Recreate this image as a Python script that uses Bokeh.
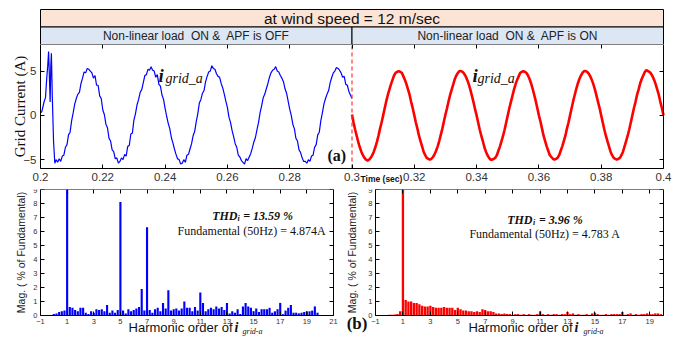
import math
import numpy as np
from bokeh.plotting import figure
from bokeh.models import Range1d, LinearAxis, FixedTicker, Label, CustomLabelingPolicy
from bokeh.layouts import column, row
from bokeh.core.properties import value
from bokeh.embed import file_html
from bokeh.resources import INLINE

SANS = "Liberation Sans"
SERIF = "Liberation Serif"

# ---------------- data ----------------
banner_title = "at wind speed = 12 m/sec"
banner_left = "Non-linear load\u00a0 ON &\u00a0 APF is OFF"
banner_right = "Non-linear load\u00a0 ON &\u00a0 APF is ON"

# grid current, APF OFF (start-up transient, irregular samples)
blue_spike_t = [0.2000, 0.2004, 0.2008, 0.2012, 0.2016, 0.2020, 0.2023, 0.2026,
                0.2028, 0.2031, 0.2033, 0.2035, 0.2038, 0.2042, 0.2046, 0.2050]
blue_spike_i = [0.3, 0.4, 1.0, 1.6, 2.0, 4.2, 5.5, 7.2,
                5.0, 1.5, 5.5, 7.0, 2.0, -3.0, -5.4, -5.0]
# grid current, APF OFF, sampled every 0.5 ms from 0.2055 s to 0.3 s
blue_main_i = [
    -5.3, -4.9, -5.2, -4.6, -4.5, -3.6, -3.3, -2.2, -1.9, -0.6, 0.3, 1.3, 1.9, 2.4, 2.6, 3.6, 4.2, 4.9, 4.8, 5.3,
    5.2, 5.0, 4.8, 4.2, 4.5, 3.4, 3.4, 2.2, 1.9, 0.6, 0.1, -1.0, -1.4, -2.6, -2.9, -3.9, -4.1, -4.9, -4.8, -5.4,
    -5.2, -4.8, -5.0, -4.4, -4.6, -3.5, -3.4, -2.1, -2.0, -0.5, 0.2, 1.2, 1.8, 2.6, 2.9, 3.7, 4.5, 4.6, 5.2, 5.1,
    5.5, 5.1, 5.0, 4.3, 4.6, 3.5, 3.3, 2.3, 1.8, 0.8, -0.1, -0.9, -1.5, -2.5, -3.1, -3.8, -4.4, -4.9, -5.0, -5.5,
    -5.4, -5.0, -5.3, -4.5, -4.4, -3.8, -3.2, -2.3, -1.8, -0.7, 0.2, 1.4, 1.8, 2.5, 2.8, 3.8, 4.4, 4.9, 5.0, 5.6,
    5.3, 5.2, 4.7, 4.4, 4.3, 3.6, 3.1, 2.4, 1.6, 0.9, -0.2, -0.8, -1.7, -2.4, -3.2, -3.6, -4.5, -4.7, -5.1, -5.3,
    -5.5, -4.9, -5.1, -4.7, -4.3, -3.7, -3.0, -2.5, -1.6, -0.8, 0.3, 1.1, 2.0, 2.4, 3.0, 3.6, 4.3, 4.8, 5.1, 5.2,
    5.5, 5.0, 4.9, 4.5, 4.2, 3.8, 3.0, 2.5, 1.6, 0.7, 0.0, -1.0, -1.5, -2.6, -2.9, -3.9, -4.2, -4.8, -5.2, -5.2,
    -5.4, -5.0, -5.2, -4.6, -4.5, -3.6, -3.3, -2.2, -1.9, -0.6, 0.3, 1.3, 1.9, 2.4, 2.8, 3.7, 4.3, 4.8, 5.0, 5.4,
    5.3, 5.1, 4.8, 4.3, 4.4, 3.5, 3.4, 2.7, 2.3, 1.9,
]
# grid current, APF ON, sampled every 0.5 ms from 0.3 s to 0.4 s
red_i = [
    0.1, -0.8, -1.6, -2.3, -3.0, -3.6, -4.1, -4.5, -4.8, -5.0, -5.1, -5.0, -4.8, -4.5, -4.1, -3.6, -3.0, -2.3, -1.5, -0.8,
    0.0, 0.8, 1.6, 2.3, 2.9, 3.5, 4.0, 4.5, 4.8, 4.9, 5.0, 4.9, 4.8, 4.4, 4.0, 3.5, 2.9, 2.3, 1.5, 0.8,
    0.0, -0.8, -1.5, -2.3, -2.9, -3.5, -4.1, -4.5, -4.8, -4.9, -5.0, -4.9, -4.7, -4.4, -4.0, -3.5, -2.9, -2.2, -1.5, -0.7,
    0.1, 0.8, 1.6, 2.3, 2.9, 3.5, 4.1, 4.5, 4.8, 5.0, 5.0, 4.9, 4.7, 4.4, 4.0, 3.5, 2.9, 2.2, 1.5, 0.7,
    0.0, -0.8, -1.6, -2.3, -2.9, -3.6, -4.1, -4.5, -4.8, -5.0, -5.0, -4.9, -4.8, -4.5, -4.0, -3.5, -2.9, -2.3, -1.6, -0.8,
    0.0, 0.8, 1.5, 2.2, 2.9, 3.5, 4.0, 4.4, 4.8, 4.9, 5.0, 4.9, 4.8, 4.5, 4.1, 3.6, 3.0, 2.3, 1.6, 0.8,
    0.0, -0.7, -1.5, -2.3, -2.9, -3.5, -4.0, -4.5, -4.7, -4.9, -5.0, -4.9, -4.8, -4.5, -4.0, -3.5, -2.9, -2.3, -1.5, -0.8,
    0.0, 0.8, 1.6, 2.3, 3.0, 3.6, 4.1, 4.5, 4.8, 5.0, 5.0, 4.9, 4.7, 4.4, 4.0, 3.5, 2.9, 2.2, 1.5, 0.8,
    0.0, -0.8, -1.6, -2.3, -2.9, -3.5, -4.1, -4.5, -4.8, -4.9, -5.0, -4.9, -4.8, -4.5, -4.1, -3.5, -2.9, -2.3, -1.6, -0.8,
    0.0, 0.8, 1.5, 2.3, 2.9, 3.6, 4.1, 4.5, 4.9, 5.1, 5.0, 4.9, 4.7, 4.4, 4.0, 3.5, 2.9, 2.3, 1.5, 0.8,
    0.0,
]
time_ticks = [0.2, 0.22, 0.24, 0.26, 0.28, 0.3, 0.32, 0.34, 0.36, 0.38, 0.4]
time_tick_labels = ["0.2", "0.22", "0.24", "0.26", "0.28", "0.3", "0.32", "0.34", "0.36", "0.38", "0.4"]
current_ticks = [-5, 0, 5]
apf_switch_time = 0.3

# harmonic spectra (% of fundamental), orders 0.0 .. 19.8 in steps of 0.2
harm_order = [round(0.2 * k, 1) for k in range(100)]
mag_off = [
    0.1, 0.15, 0.25, 0.3, 0.35, 100, 0.6, 0.55, 0.4, 0.3,
    0.55, 0.55, 0.2, 0.1, 0.3, 0.2, 0.45, 0.4, 0.45, 0.3,
    0.75, 0.2, 0.35, 0.2, 0.4, 8.1, 0.35, 0.15, 0.45, 0.3,
    0.4, 0.5, 0.6, 1.9, 0.35, 6.3, 0.4, 0.2, 0.45, 0.55,
    0.3, 0.9, 0.5, 1.8, 0.35, 0.45, 0.5, 0.35, 0.5, 1.0,
    0.55, 0.55, 0.3, 0.6, 0.35, 1.65, 0.9, 0.3, 0.45, 0.55,
    0.45, 0.65, 0.5, 0.6, 0.4, 0.9, 0.15, 0.3, 0.2, 0.45,
    0.1, 0.65, 0.9, 0.65, 0.55, 0.3, 0.5, 0.25, 0.45, 0.45,
    0.45, 0.55, 0.2, 0.3, 0.45, 0.9, 0.1, 0.35, 0.55, 0.75,
    0.2, 0.2, 0.15, 0.2, 0.25, 0.3, 0.3, 0.35, 0.65, 0.2,
]
mag_on = [
    0.05, 0.05, 0.08, 0.1, 0.3, 100, 1.1, 1.0, 1.0, 0.9,
    0.9, 0.8, 0.7, 0.65, 0.65, 0.7, 0.6, 0.55, 0.55, 0.55,
    0.6, 0.55, 0.55, 0.55, 0.4, 0.55, 0.45, 0.35, 0.35, 0.3,
    0.3, 0.25, 0.3, 0.25, 0.45, 0.4, 0.3, 0.3, 0.25, 0.15,
    0.15, 0.1, 0.15, 0.1, 0.1, 0.05, 0.1, 0.1, 0.05, 0.1,
    0.05, 0.1, 0.05, 0.05, 0.1, 0.3, 0.1, 0.05, 0.1, 0.05,
    0.1, 0.1, 0.05, 0.1, 0.1, 0.25, 0.1, 0.15, 0.05, 0.1,
    0.05, 0.05, 0.1, 0.05, 0.15, 0.2, 0.1, 0.05, 0.05, 0.1,
    0.05, 0.1, 0.1, 0.1, 0.1, 0.25, 0.05, 0.1, 0.15, 0.05,
    0.1, 0.05, 0.1, 0.1, 0.15, 0.1, 0.1, 0.15, 0.15, 0.1,
]
harm_ticks_off = [-1, 1, 3, 5, 7, 9, 11, 13, 15, 17, 19, 21]
harm_ticks_on = [-1, 1, 3, 5, 7, 9, 11, 13, 15, 17, 19]
mag_ticks = [0, 1, 2, 3, 4, 5, 6, 7, 8, 9]

# sample grids
blue_main_t = list(np.round(0.2055 + 0.0005 * np.arange(len(blue_main_i)), 5))
red_t = list(np.round(0.3 + 0.0005 * np.arange(len(red_i)), 5))
blue_t = blue_spike_t + blue_main_t
blue_i = blue_spike_i + blue_main_i

BLUE = "#0000ff"
RED = "#ff0000"
PEACH = "#fbe4d5"
LIGHTBLUE = "#dde7f4"

NO_LABELS = CustomLabelingPolicy(code="""
try { for (const i of Array.from(indices)) { indices.unset(i) } } catch (e) {}
return indices
""")

ZERO_BORDERS = dict(min_border=0, min_border_left=0, min_border_right=0,
                    min_border_top=0, min_border_bottom=0)


def padded(lo, hi, px_len, pad_lo, pad_hi):
    """Range whose [lo, hi] part spans px_len pixels, padded by pad_lo/pad_hi pixels."""
    k = (hi - lo) / px_len
    return Range1d(lo - pad_lo * k, hi + pad_hi * k)


def box_axes(p, xr, yr, xticks, yticks, label_size, label_color="#333333",
             overrides=None, xstandoff=3, ystandoff=3):
    """Axes drawn as a closed box around the data area [xr] x [yr] with inward ticks."""
    p.xgrid.visible = False
    p.ygrid.visible = False
    p.outline_line_color = None
    top_ax = LinearAxis()
    right_ax = LinearAxis()
    p.add_layout(top_ax, "above")
    p.add_layout(right_ax, "right")
    p.below[0].fixed_location = yr[0]
    top_ax.fixed_location = yr[1]
    p.left[0].fixed_location = xr[0]
    right_ax.fixed_location = xr[1]
    for ax in p.xaxis:
        ax.ticker = FixedTicker(ticks=xticks)
        ax.bounds = xr
        if overrides:
            ax.major_label_overrides = overrides
        ax.major_label_standoff = xstandoff
    for ax in p.yaxis:
        ax.ticker = FixedTicker(ticks=yticks)
        ax.bounds = yr
        ax.major_label_standoff = ystandoff
    for ax in p.axis:
        ax.major_tick_in = 4
        ax.major_tick_out = 0
        ax.minor_tick_line_color = None
        ax.axis_line_color = "black"
        ax.major_tick_line_color = "black"
        ax.major_label_text_font = SANS
        ax.major_label_text_font_size = label_size
        ax.major_label_text_color = label_color
    for ax in (top_ax, right_ax):
        ax.major_label_text_font_size = "0px"
        ax.major_label_standoff = 0
        ax.major_label_policy = NO_LABELS


def lab(p, x, y, text, size, font=SANS, style="normal", color="#111111", baseline="middle",
        align="left", angle=0.0):
    p.add_layout(Label(x=x, y=y, text=text, text_font=font, text_font_size=size,
                       text_font_style=style, text_color=color, angle=angle,
                       text_baseline=baseline, text_align=align))


# ---------------- banner ----------------
banner = figure(width=681, height=44,
                x_range=padded(0, 1, 623, 40, 18), y_range=padded(0, 2, 35, 0, 9),
                x_axis_type=None, y_axis_type=None, toolbar_location=None, output_backend="svg",
                **ZERO_BORDERS)
banner.outline_line_color = None
banner.quad(left=[0, 0, 0.5], right=[1, 0.5, 1], bottom=[1, 0, 0], top=[2, 1, 1],
            fill_color=[PEACH, LIGHTBLUE, LIGHTBLUE], line_color="black", line_width=1)
banner.text(x=[0.5], y=[1.5], text=[banner_title], text_font=value(SANS), text_font_size="15.5px",
            text_align="center", text_baseline="middle", text_color="#111111")
banner.text(x=[0.25, 0.75], y=[0.5, 0.5], text=[banner_left, banner_right], text_font=value(SANS),
            text_font_size="12px", text_align="center", text_baseline="middle", text_color="#222222")

# ---------------- time plot ----------------
T_X = (0.2, 0.4)
T_Y = (-6, 8)
tp = figure(width=681, height=143,
            x_range=padded(T_X[0], T_X[1], 623, 40, 18),
            y_range=padded(T_Y[0], T_Y[1], 124, 19, 0),
            toolbar_location=None, output_backend="svg", **ZERO_BORDERS)
box_axes(tp, T_X, T_Y, time_ticks, current_ticks, "11.5px",
         overrides=dict(zip(time_ticks, time_tick_labels)), xstandoff=4, ystandoff=4)
tp.line(blue_t, blue_i, line_color=BLUE, line_width=1.2)
tp.line(red_t, red_i, line_color=RED, line_width=2.6)
tp.segment(x0=[apf_switch_time], y0=[T_Y[0]], x1=[apf_switch_time], y1=[T_Y[1]],
           line_color="#ff3333", line_dash="4 3", line_width=1.2)
lab(tp, 0.19326, 1.0, "Grid Current (A)", "15px", SERIF, "normal", align="center", angle=math.pi / 2)
lab(tp, 0.23788, 4.5, "i", "19px", SERIF, "bold italic", baseline="alphabetic")
lab(tp, 0.24013, 4.15, "grid_a", "14px", SERIF, "italic", baseline="alphabetic")
lab(tp, 0.33868, 4.5, "i", "19px", SERIF, "bold italic", baseline="alphabetic")
lab(tp, 0.34029, 4.15, "grid_a", "14px", SERIF, "italic", baseline="alphabetic")
lab(tp, 0.29213, -4.55, "(a)", "16px", SERIF, "bold")
lab(tp, 0.30273, -7.24, "Time (sec)", "8.5px", SANS, "bold")

# ---------------- spectrum, APF OFF ----------------
L_X = (-1, 21)
S_Y = (0, 9)
bl = figure(width=345, height=151,
            x_range=padded(L_X[0], L_X[1], 293, 40, 12),
            y_range=padded(S_Y[0], S_Y[1], 126, 23, 0),
            toolbar_location=None, output_backend="svg",
            min_border=0, min_border_left=0, min_border_right=0, min_border_top=2, min_border_bottom=0)
box_axes(bl, L_X, S_Y, harm_ticks_off, mag_ticks, "7.5px", xstandoff=3, ystandoff=3)
bl.vbar(x=harm_order, top=mag_off, width=0.16, bottom=0, fill_color=BLUE, line_color=None)
lab(bl, -2.50, 4.5, "Mag. ( % of Fundamental)", "10.5px", SANS, "normal", color="#222222",
    align="center", angle=math.pi / 2)
lab(bl, 11.89, 7.14, "THD", "12px", SERIF, "bold italic")
lab(bl, 13.80, 6.92, "i", "8px", SERIF, "bold italic")
lab(bl, 14.22, 7.14, "= 13.59 %", "12px", SERIF, "bold italic")
lab(bl, 9.29, 6.07, "Fundamental (50Hz) = 4.874A", "12px", SERIF, "normal")
lab(bl, 5.61, -0.86, "Harmonic order of", "13px", SANS, "normal")
lab(bl, 13.57, -0.86, "i", "14px", SERIF, "bold italic")
lab(bl, 14.17, -1.14, "grid-a", "8px", SERIF, "italic")

# ---------------- spectrum, APF ON ----------------
R_X = (-1, 20)
br = figure(width=336, height=151,
            x_range=padded(R_X[0], R_X[1], 288, 30, 18),
            y_range=padded(S_Y[0], S_Y[1], 126, 23, 0),
            toolbar_location=None, output_backend="svg",
            min_border=0, min_border_left=0, min_border_right=0, min_border_top=2, min_border_bottom=0)
box_axes(br, R_X, S_Y, harm_ticks_on, mag_ticks, "7.5px", xstandoff=3, ystandoff=3)
br.vbar(x=harm_order, top=mag_on, width=0.17, bottom=0, fill_color=RED, line_color=None)
lab(br, -2.68, 4.5, "Mag. ( % of Fundamental)", "10.5px", SANS, "normal", color="#222222",
    align="center", angle=math.pi / 2)
lab(br, 8.60, 6.84, "THD", "12px", SERIF, "bold italic")
lab(br, 10.48, 6.62, "i", "8px", SERIF, "bold italic")
lab(br, 10.92, 6.84, "= 3.96 %", "12px", SERIF, "bold italic")
lab(br, 5.85, 5.84, "Fundamental (50Hz) = 4.783 A", "12px", SERIF, "normal")
lab(br, 5.78, -0.86, "Harmonic order of", "13px", SANS, "normal")
lab(br, 13.51, -0.86, "i", "14px", SERIF, "bold italic")
lab(br, 14.17, -1.14, "grid-a", "8px", SERIF, "italic")
lab(br, -3.10, -0.57, "(b)", "17px", SERIF, "bold")

layout = column(banner, tp, row(bl, br))
open("out.html", "w").write(file_html(layout, INLINE))
